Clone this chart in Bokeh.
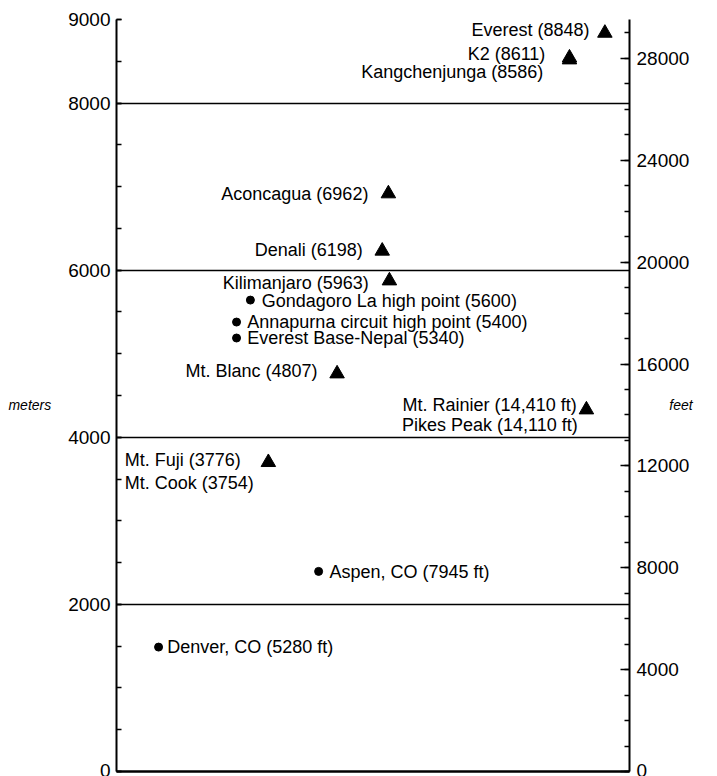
from bokeh.plotting import figure
from bokeh.models import Range1d, LinearAxis, FixedTicker, ColumnDataSource
from bokeh.embed import file_html
from bokeh.resources import INLINE
from bokeh.core.properties import value

# ---------------- data ----------------
label_text = [
    "Everest (8848)", "K2 (8611)", "Kangchenjunga (8586)", "Aconcagua (6962)",
    "Denali (6198)", "Kilimanjaro (5963)", "Gondagoro La high point (5600)",
    "Annapurna circuit high point (5400)", "Everest Base-Nepal (5340)",
    "Mt. Blanc (4807)", "Mt. Rainier (14,410 ft)", "Pikes Peak (14,110 ft)",
    "Mt. Fuji (3776)", "Mt. Cook (3754)", "Aspen, CO (7945 ft)", "Denver, CO (5280 ft)",
]
# marker kind: peak = triangle, place = dot, none = label only
marker_kind = ["peak", "peak", "peak", "peak", "peak", "peak", "place", "place", "place",
               "peak", "peak", "none", "peak", "none", "place", "place"]
# marker elevation in metres as drawn in the picture
marker_m = [8838, 8542, 8519, 6916, 6230, 5874, 5642, 5379, 5188,
            4761, 4330, None, 3700, None, 2395, 1489]

left_ticks = [0, 2000, 4000, 6000, 8000, 9000]
ft_ticks = [0, 4000, 8000, 12000, 16000, 20000, 24000, 28000]
grid_m = [2000, 4000, 6000, 8000]
M_MAX = 9000
FT_PER_M = 1 / 0.3048

# ---------------- layout (horizontal placement, label anchors) ----------------
marker_x = [95.2, 88.3, 88.3, 53.0, 51.8, 53.2, 26.1, 23.4, 23.4,
            43.0, 91.6, None, 29.6, None, 39.4, 8.2]
label_x = [92.2, 83.6, 83.2, 49.1, 48.0, 20.7, 28.3, 25.5, 25.5,
           39.2, 89.7, 89.9, 1.6, 1.6, 41.5, 9.9]
label_y = [8869, 8583, 8367, 6917, 6240, 5842, 5630, 5379, 5183,
           4788, 4382, 4142, 3723, 3448, 2387, 1489]
label_align = ["right", "right", "right", "right", "right", "left", "left", "left", "left",
               "right", "right", "right", "left", "left", "left", "left"]

FONT = "Liberation Sans"

p = figure(width=717, height=776, output_backend="svg", toolbar_location=None,
           x_range=Range1d(0, 100), y_range=Range1d(0, M_MAX),
           min_border_left=116, min_border_right=88, min_border_top=19, min_border_bottom=5)
p.outline_line_color = None
p.xgrid.visible = False
p.background_fill_color = "white"
p.border_fill_color = "white"

# bottom axis: just the base line
xa = p.xaxis[0]
xa.ticker = FixedTicker(ticks=[])
xa.major_tick_line_color = None
xa.minor_tick_line_color = None
xa.major_label_text_font_size = "0px"
xa.major_label_standoff = 0
xa.axis_line_width = 2.5
xa.axis_line_color = "black"

# left axis (meters)
ya = p.yaxis[0]
ya.ticker = FixedTicker(ticks=left_ticks, minor_ticks=list(range(0, M_MAX + 1, 500)))
ya.major_tick_in = 5
ya.major_tick_out = 0
ya.minor_tick_in = 5
ya.minor_tick_out = 0
ya.axis_line_width = 2
ya.major_tick_line_width = 1.5
ya.minor_tick_line_width = 1.5
ya.major_label_standoff = 6
ya.major_label_text_font = FONT
ya.major_label_text_font_size = "19px"
ya.major_label_text_color = "black"
ya.axis_label = "\nmeters"
ya.axis_label_orientation = "horizontal"
ya.axis_label_standoff = 14
ya.axis_label_text_font = FONT
ya.axis_label_text_font_style = "italic"
ya.axis_label_text_font_size = "14px"
ya.axis_label_text_color = "black"

# right axis (feet)
p.extra_y_ranges = {"ft": Range1d(0, M_MAX * FT_PER_M)}
ra = LinearAxis(y_range_name="ft",
                ticker=FixedTicker(ticks=ft_ticks,
                                   minor_ticks=[f for f in range(0, 30000, 1000) if f <= M_MAX * FT_PER_M]))
ra.major_tick_in = 9
ra.major_tick_out = 0
ra.minor_tick_in = 5
ra.minor_tick_out = 0
ra.axis_line_width = 2
ra.major_tick_line_width = 1.5
ra.minor_tick_line_width = 1.5
ra.major_label_standoff = 7
ra.major_label_text_font = FONT
ra.major_label_text_font_size = "19px"
ra.major_label_text_color = "black"
ra.axis_label = "\nfeet"
ra.axis_label_orientation = "horizontal"
ra.axis_label_standoff = -23
ra.axis_label_text_font = FONT
ra.axis_label_text_font_style = "italic"
ra.axis_label_text_font_size = "14px"
ra.axis_label_text_color = "black"
p.add_layout(ra, "right")

# horizontal lines
p.ygrid.ticker = FixedTicker(ticks=grid_m)
p.ygrid.grid_line_color = "black"
p.ygrid.grid_line_width = 1.5

# markers
tri = ColumnDataSource(dict(
    x=[x for x, k in zip(marker_x, marker_kind) if k == "peak"],
    y=[m for m, k in zip(marker_m, marker_kind) if k == "peak"]))
dot = ColumnDataSource(dict(
    x=[x for x, k in zip(marker_x, marker_kind) if k == "place"],
    y=[m for m, k in zip(marker_m, marker_kind) if k == "place"]))
p.scatter("x", "y", source=tri, marker="triangle", size=14.5, fill_color="black", line_color="black")
p.scatter("x", "y", source=dot, marker="circle", size=8, fill_color="black", line_color="black")

# labels
for al in ("left", "right"):
    idx = [i for i, a in enumerate(label_align) if a == al]
    src = ColumnDataSource(dict(x=[label_x[i] for i in idx], y=[label_y[i] for i in idx],
                                t=[label_text[i] for i in idx]))
    p.text("x", "y", text="t", source=src, text_align=al, text_baseline="middle",
           text_font=value(FONT), text_font_size=value("18px"), text_color="black")

open("out.html", "w").write(file_html(p, INLINE))
